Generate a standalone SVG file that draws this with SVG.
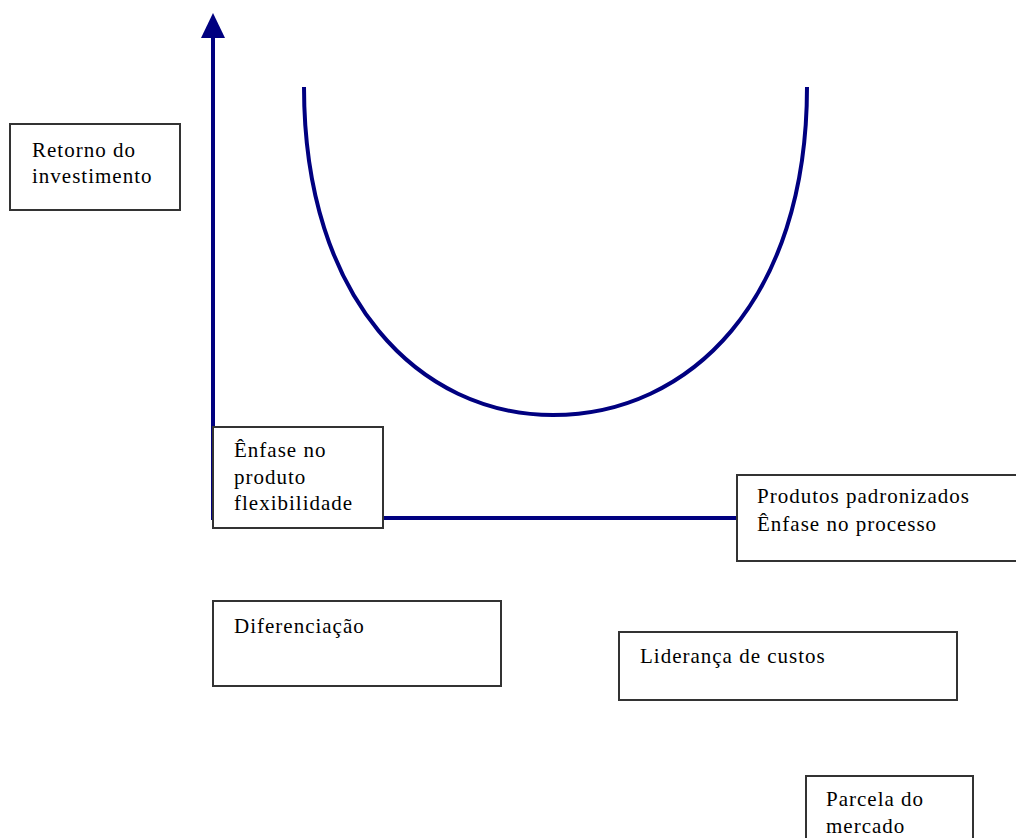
<svg xmlns="http://www.w3.org/2000/svg" width="1016" height="838" viewBox="0 0 1016 838">
<style>
.box{fill:#fff;stroke:#333;stroke-width:2}
.t{font-family:"Liberation Serif","Times New Roman",serif;font-size:21px;fill:#000;letter-spacing:1px}
.ax{stroke:#000080;stroke-width:4;fill:none}
</style>
<rect width="1016" height="838" fill="#fff"/>
<g id="connectors">
<line class="ax" x1="213" y1="520" x2="213" y2="36"/>
<polygon points="213,13 201,38 225,38" fill="#000080"/>
<line class="ax" x1="213" y1="518" x2="738" y2="518"/>
<path class="ax" d="M304,87 C304,300 420,415 553,415 C690,415 807,300 807,87"/>
</g>
<g id="retorno">
<rect class="box" x="10" y="124" width="170" height="86"/>
<text class="t" x="32" y="157">Retorno do</text>
<text class="t" x="32" y="183">investimento</text>
</g>
<g id="enfase-produto">
<rect class="box" x="213" y="427" width="170" height="101"/>
<text class="t" x="234" y="457">Ênfase no</text>
<text class="t" x="234" y="484">produto</text>
<text class="t" x="234" y="510">flexibilidade</text>
</g>
<g id="produtos-padronizados">
<rect class="box" x="737" y="475" width="290" height="86"/>
<text class="t" x="757" y="503">Produtos padronizados</text>
<text class="t" x="757" y="531">Ênfase no processo</text>
</g>
<g id="diferenciacao">
<rect class="box" x="213" y="601" width="288" height="85"/>
<text class="t" x="234" y="633">Diferenciação</text>
</g>
<g id="lideranca">
<rect class="box" x="619" y="632" width="338" height="68"/>
<text class="t" x="640" y="663">Liderança de custos</text>
</g>
<g id="parcela">
<rect class="box" x="806" y="776" width="167" height="80"/>
<text class="t" x="826" y="806">Parcela do</text>
<text class="t" x="826" y="833">mercado</text>
</g>
</svg>
